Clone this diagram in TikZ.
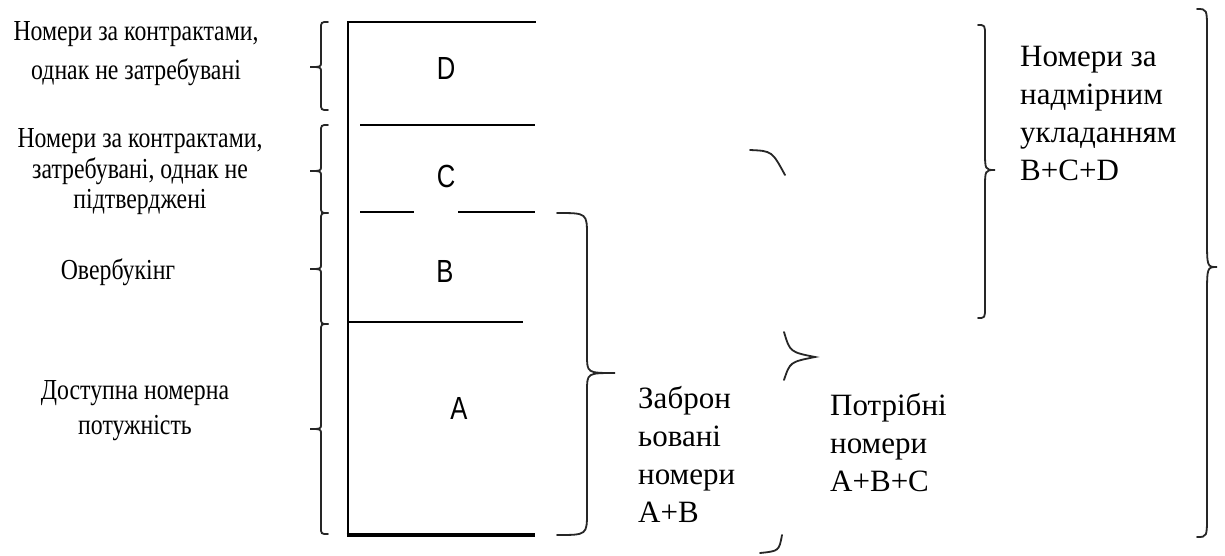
\documentclass[tikz,border=0pt]{standalone}
\usepackage{fontspec}
\setmainfont{Liberation Serif}
\newfontfamily\narrowserif[FakeStretch=0.82]{Liberation Serif}
\newfontfamily\boxsans[FakeStretch=0.8]{Liberation Sans}
\tikzset{
  leftlabel/.style={font=\narrowserif\fontsize{29}{#1}\selectfont, align=center, inner sep=0pt},
  rightlabel/.style={font=\fontsize{31}{38}\selectfont, align=left, inner sep=0pt, anchor=west},
  letter/.style={font=\boxsans\fontsize{32}{36}\selectfont, inner sep=0pt},
  frameline/.style={line width=2.7pt, line cap=rect},
  divline/.style={line width=1.8pt},
  brace/.style={line width=1.8pt, draw=black!85, line cap=round},
}
% left-facing brace: x of vertical, top y, tip y, bottom y
\newcommand{\lbracepath}[4]{%
  \draw[brace] ({#1+7},#2) .. controls (#1,#2) .. (#1,{#2+7}) -- (#1,{#3-5})
    .. controls (#1,#3) .. ({#1-11},#3) .. controls (#1,#3) .. (#1,{#3+5})
    -- (#1,{#4-7}) .. controls (#1,#4) .. ({#1+7},#4);}
% right-facing brace: hook x, vertical x, top y, vertical start, vertical end, tip x, tip y, vertical resume, bottom y
\newcommand{\rbracepath}[9]{%
  \draw[brace] (#1,#3) .. controls (#2,#3) .. (#2,#4) -- (#2,#5)
    .. controls (#2,#7) .. (#6,#7) .. controls (#2,#7) .. (#2,#8)
    -- (#2,{#9-(#4-#3)}) .. controls (#2,#9) .. (#1,#9);}
\begin{document}
\begin{tikzpicture}[x=1pt,y=-1pt]
\fill[white] (0,0) rectangle (1225,555);
\useasboundingbox (0,0) rectangle (1225,555);

% the column
\draw[frameline] (535,22) -- (348,22) -- (348,535);
\draw[line width=3.6pt] (346.65,535) -- (535,535);
\draw[divline] (360,125) -- (535,125);
\draw[divline] (360,212) -- (414,212);
\draw[divline] (458,212) -- (535,212);
\draw[divline] (348,322) -- (523,322);

\node[letter] (D) at (446,68) {D};
\node[letter] (C) at (446,176) {C};
\node[letter] (B) at (445,271) {B};
\node[letter] (A) at (459,408) {A};

% left labels
\node[leftlabel=39] (lblD) at (136,54) {Номери за контрактами,\\однак не затребувані};
\node[leftlabel=30.5] (lblC) at (140,172) {Номери за контрактами,\\затребувані, однак не\\підтверджені};
\node[leftlabel=30] (lblB) at (118,272) {Овербукінг};
\node[leftlabel=35] (lblA) at (135,411) {Доступна номерна\\потужність};

% left braces
\lbracepath{321}{22}{67}{110}
\lbracepath{321}{125}{171}{213}
\lbracepath{321}{213}{269}{324}
\lbracepath{321}{324}{429}{534}

% brace A+B
\rbracepath{557}{587}{213}{236}{355}{615}{373}{391}{535}
\node[rightlabel] (lblAB) at (638,454) {Заброн\\ьовані\\номери\\A+B};

% brace A+B+C (only its curved parts are shown)
\draw[brace] (750,150) .. controls (772,151) .. (785,175);
\draw[brace] (784,332) .. controls (790,352) .. (815,357) .. controls (790,362) .. (784,380);
\draw[brace] (782,535) .. controls (779,551) .. (760,553);
\node[rightlabel] (lblABC) at (830,443) {Потрібні\\номери\\A+B+C};

% brace B+C+D
\rbracepath{978}{985}{25}{36}{150}{995}{170}{189}{318}
\node[rightlabel] (lblBCD) at (1020,113) {Номери за\\надмірним\\укладанням\\B+C+D};

% brace over everything
\rbracepath{1197}{1207}{9}{31}{238}{1217}{267}{297}{537}
\end{tikzpicture}
\end{document}
